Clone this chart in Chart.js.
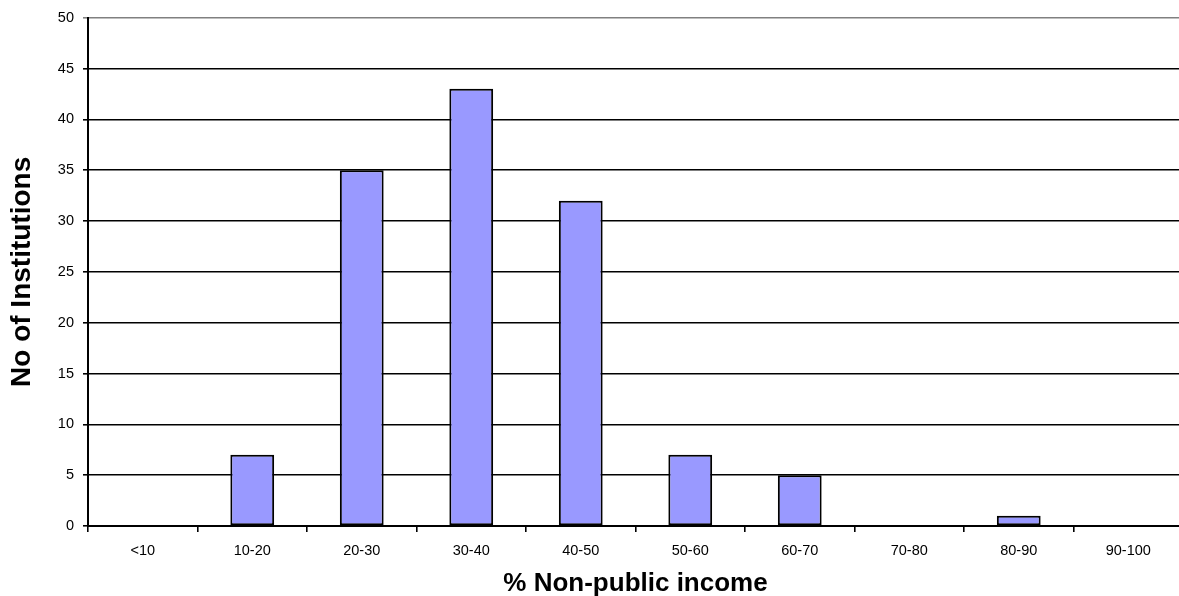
<!DOCTYPE html>
<html>
<head>
<meta charset="utf-8">
<script src="https://cdn.jsdelivr.net/npm/chart.js@4/dist/chart.umd.min.js"></script>
<style>
  html, body { margin: 0; padding: 0; background: #fff; overflow: hidden; }
  #wrap { width: 1183px; height: 596px; }
</style>
</head>
<body>
<div id="wrap"><canvas id="c" width="1183" height="596"></canvas></div>
<script>
// Income bands (% of income from non-public sources)
const categories = ['<10', '10-20', '20-30', '30-40', '40-50', '50-60', '60-70', '70-80', '80-90', '90-100'];
// Number of institutions in each band
const institutions = [0, 7, 35, 43, 32, 7, 5, 0, 1, 0];
// Value axis
const yMin = 0;
const yMax = 50;
const yStep = 5;

const FONT = '"Liberation Sans", Arial, sans-serif';

new Chart(document.getElementById('c'), {
  type: 'bar',
  data: {
    labels: categories,
    datasets: [{
      data: institutions,
      backgroundColor: '#9999ff',
      borderColor: '#000000',
      borderWidth: 2,
      borderSkipped: false,
      barPercentage: 0.4,
      categoryPercentage: 1.0
    }]
  },
  options: {
    responsive: false,
    animation: false,
    layout: { padding: { top: 15, left: 0, right: 0, bottom: 0 } },
    plugins: {
      legend: { display: false },
      tooltip: { enabled: false }
    },
    scales: {
      x: {
        offset: true,
        grid: {
          offset: true,
          drawOnChartArea: false,
          drawTicks: true,
          tickLength: 6,
          color: '#000000',
          lineWidth: 1.6
        },
        border: { display: true, color: '#000000', width: 2 },
        ticks: {
          color: '#000000',
          font: { family: FONT, size: 14.5 },
          padding: 10,
          maxRotation: 0,
          autoSkip: false
        },
        title: {
          display: true,
          text: '% Non-public income',
          color: '#000000',
          font: { family: FONT, size: 26, weight: 'bold' },
          padding: { top: 0, bottom: -3 }
        },
        afterFit: s => { s.height = 70; }
      },
      y: {
        min: yMin,
        max: yMax,
        grid: {
          color: c => (c.tick && c.tick.value === yMax) ? '#808080' : '#000000',
          lineWidth: 1.6,
          drawTicks: true,
          tickLength: 5
        },
        border: { display: true, color: '#000000', width: 2 },
        ticks: {
          stepSize: yStep,
          color: '#000000',
          font: { family: FONT, size: 14.5 },
          padding: 9
        },
        title: {
          display: true,
          text: 'No of Institutions',
          color: '#000000',
          font: { family: FONT, size: 28, weight: 'bold' },
          padding: { top: 5, bottom: 0 }
        },
        afterFit: s => { s.width = 88; }
      }
    }
  }
});
</script>
</body>
</html>
